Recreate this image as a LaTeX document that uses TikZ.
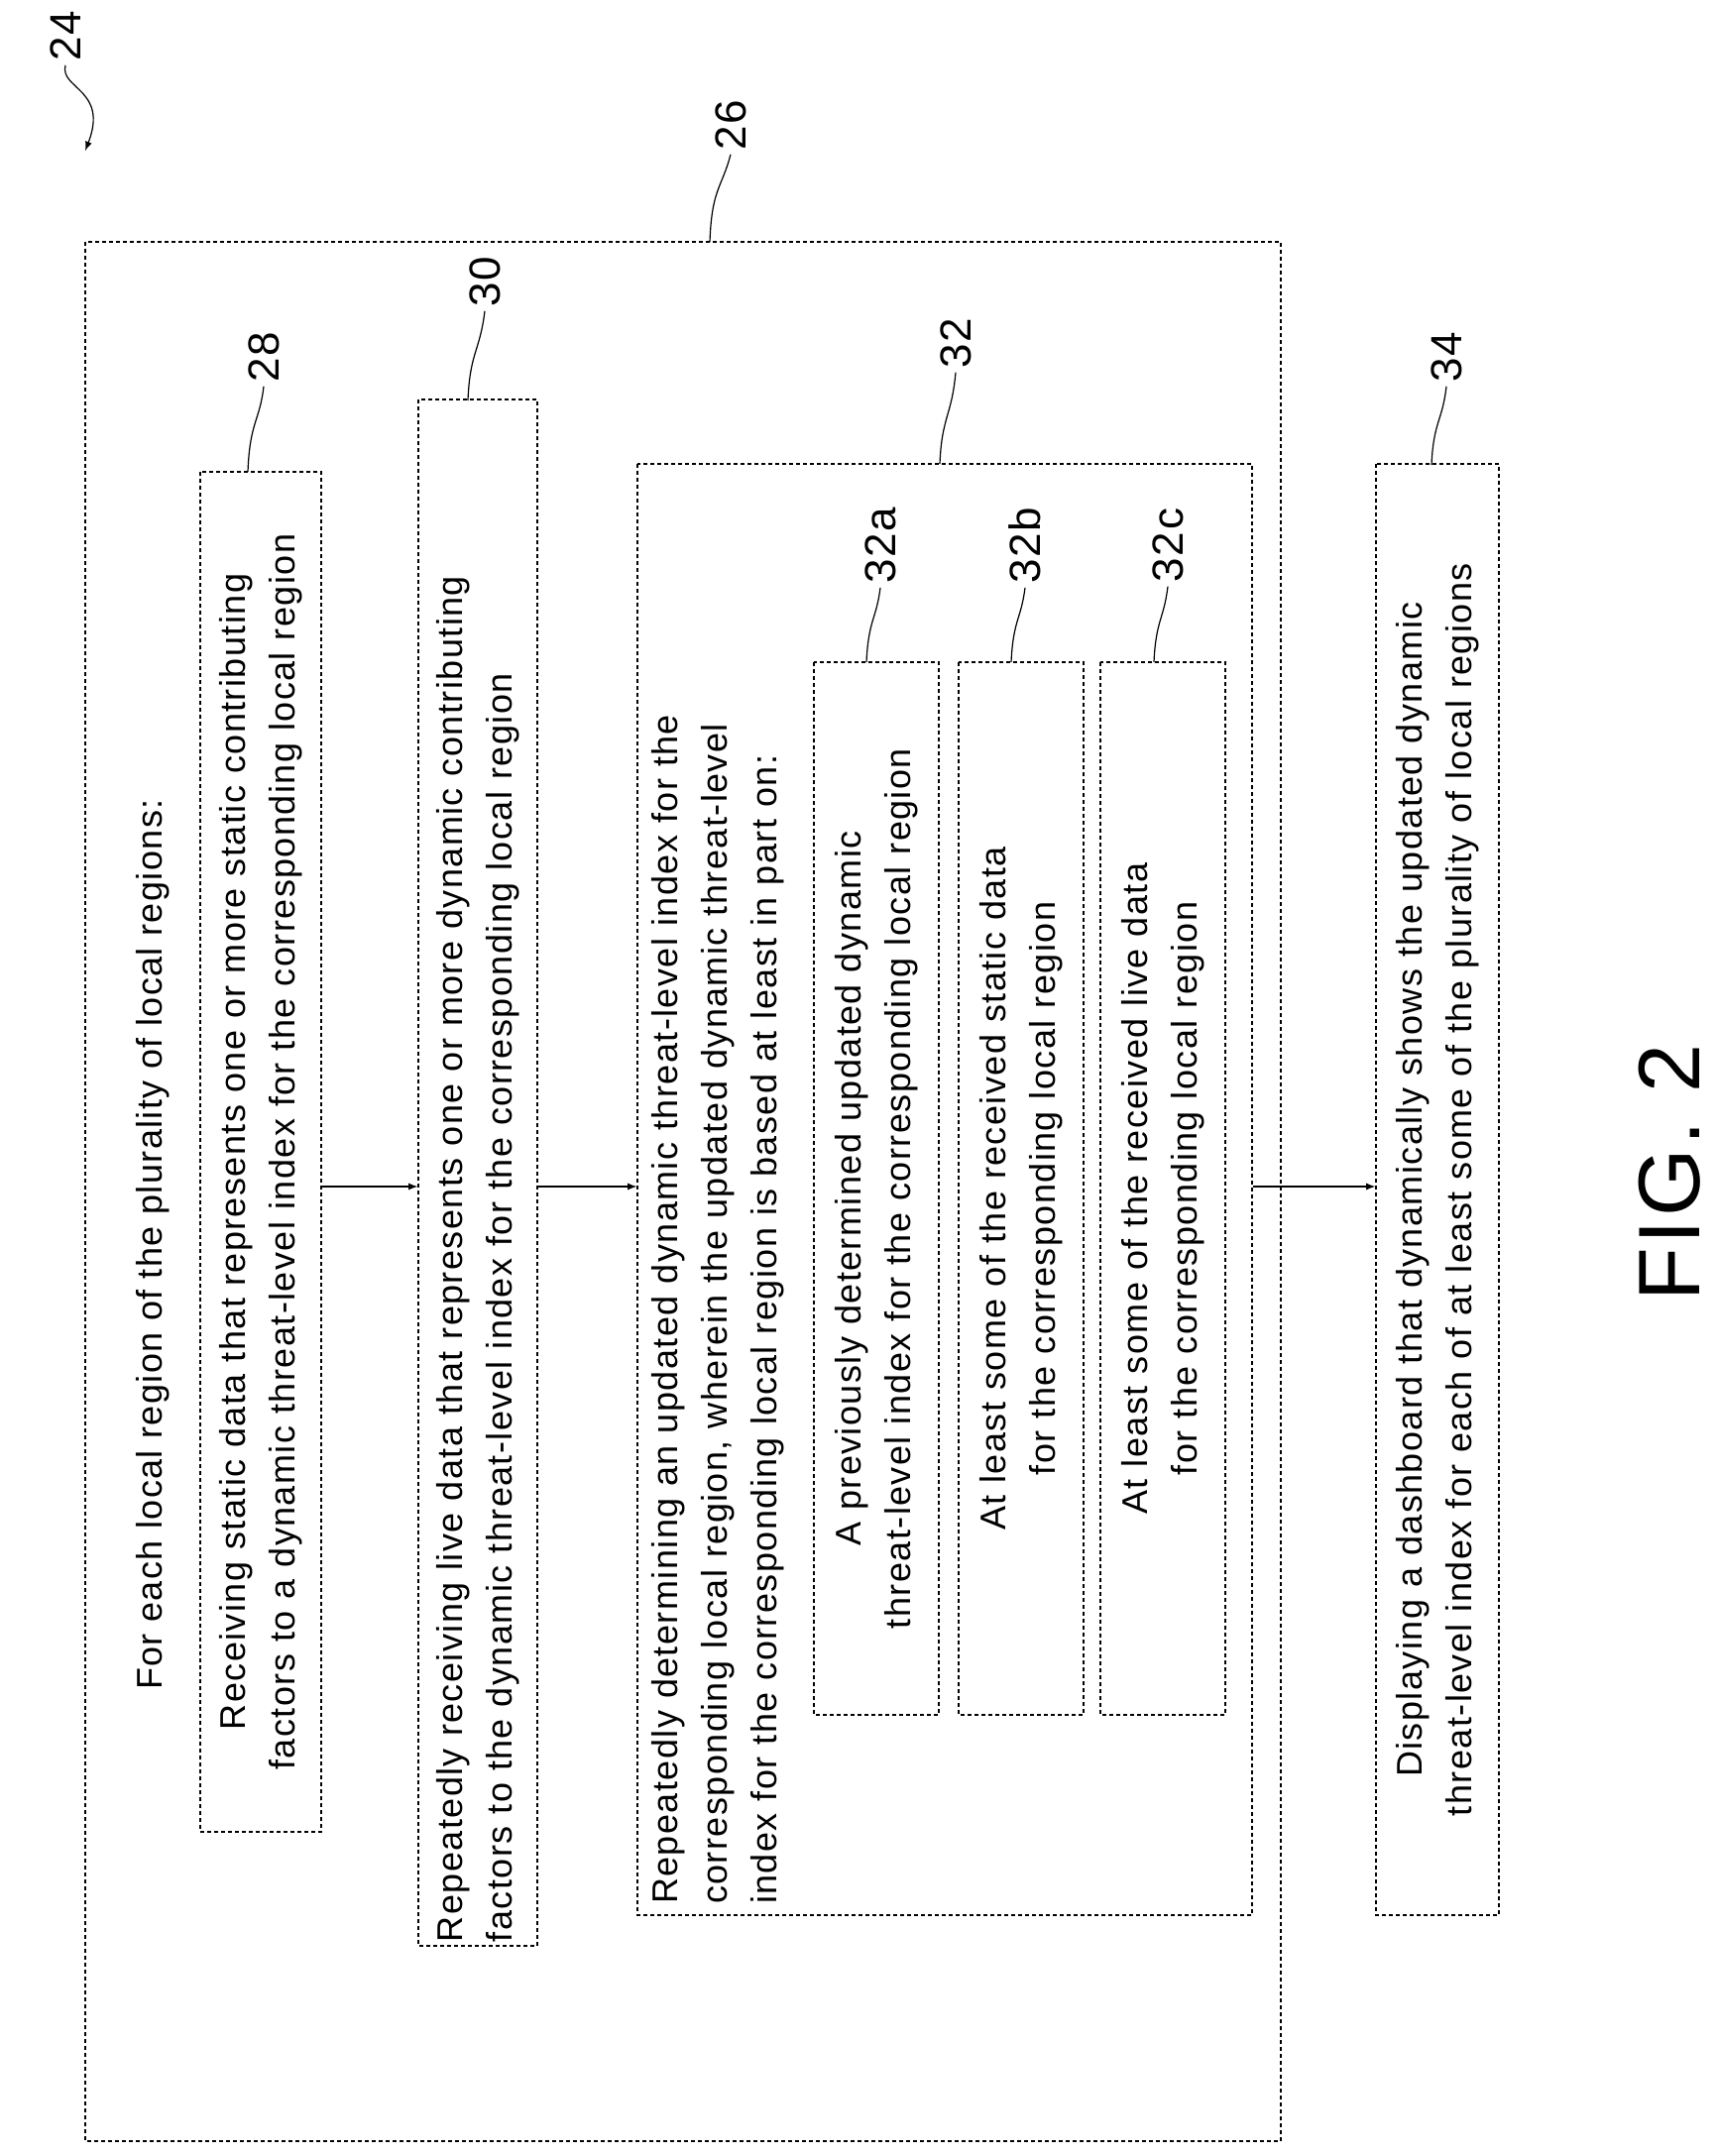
\documentclass[tikz,border=0pt]{standalone}
\usepackage{fontspec}
\setmainfont[LetterSpace=4]{Liberation Sans}
\begin{document}
\begin{tikzpicture}[x=0.5pt,y=-0.5pt,
  box/.style={draw,dash pattern=on 2pt off 1.5pt,line width=0.6pt,rotate=90,inner sep=0pt},
  txt/.style={font=\fontsize{18}{25}\selectfont},
  lbl/.style={font=\fontsize{22}{24}\selectfont,rotate=90,inner sep=2pt},
  lead/.style={line width=0.6pt}]
  \useasboundingbox (0,0) rectangle (1733,2175);
  % outer block
  \draw[dash pattern=on 2pt off 1.5pt,line width=0.6pt] (86,244) rectangle (1292,2160);
  \node[txt,rotate=90,anchor=north west] (head) at (130,1712) {For each local region of the plurality of local regions:};
  % steps
  \node[box,txt,minimum width=686pt,minimum height=61pt,text width=680pt,align=center] (s28) at (263,1162)
    {Receiving static data that represents one or more static contributing\\factors to a dynamic threat-level index for the corresponding local region};
  \node[box,txt,minimum width=780pt,minimum height=60pt,text width=776pt,align=left] (s30) at (482,1183)
    {Repeatedly receiving live data that represents one or more dynamic contributing\\factors to the dynamic threat-level index for the corresponding local region};
  \node[box,minimum width=732pt,minimum height=310pt] (s32) at (953,1200) {};
  \node[txt,rotate=90,anchor=north west,text width=726pt,align=left] (t32) at (650,1928)
    {Repeatedly determining an updated dynamic threat-level index for the\\corresponding local region, wherein the updated dynamic threat-level\\index for the corresponding local region is based at least in part on:};
  \node[box,txt,minimum width=531pt,minimum height=63pt,text width=525pt,align=center] (s32a) at (884,1199)
    {A previously determined updated dynamic\\threat-level index for the corresponding local region};
  \node[box,txt,minimum width=531pt,minimum height=63pt,text width=525pt,align=center] (s32b) at (1030,1199)
    {At least some of the received static data\\for the corresponding local region};
  \node[box,txt,minimum width=531pt,minimum height=63pt,text width=525pt,align=center] (s32c) at (1173,1199)
    {At least some of the received live data\\for the corresponding local region};
  \node[box,txt,minimum width=732pt,minimum height=62pt,text width=726pt,align=center] (s34) at (1450,1200)
    {Displaying a dashboard that dynamically shows the updated dynamic\\threat-level index for each of at least some of the plurality of local regions};
  % arrows
  \draw[lead,-latex] (s28.south |- 0,1197) -- (s30.north |- 0,1197);
  \draw[lead,-latex] (s30.south |- 0,1197) -- (s32.north |- 0,1197);
  \draw[lead,-latex] (s32.south |- 0,1197) -- (s34.north |- 0,1197);
  % reference numerals
  \node[lbl] (n24) at (66,36) {24};
  \node[lbl] (n26) at (737,126) {26};
  \node[lbl] (n28) at (266,360) {28};
  \node[lbl] (n30) at (489,284) {30};
  \node[lbl] (n32) at (964,346) {32};
  \node[lbl] (n32a) at (888,550) {32a};
  \node[lbl] (n32b) at (1034,550) {32b};
  \node[lbl] (n32c) at (1178,550) {32c};
  \node[lbl] (n34) at (1459,360) {34};
  \draw[lead,-latex] (n24.west) .. controls (60,90) and (110,90) .. (86,152);
  \draw[lead] (n26.west) .. controls (728,190) and (718,190) .. (716,244);
  \draw[lead] (n28.west) .. controls (262,425) and (252,425) .. (250,476);
  \draw[lead] (n30.west) .. controls (484,355) and (474,355) .. (472,404);
  \draw[lead] (n32.west) .. controls (960,420) and (950,420) .. (948,468);
  \draw[lead] (n32a.west) .. controls (884,625) and (876,625) .. (874,668);
  \draw[lead] (n32b.west) .. controls (1030,625) and (1022,625) .. (1020,668);
  \draw[lead] (n32c.west) .. controls (1174,625) and (1166,625) .. (1164,668);
  \draw[lead] (n34.west) .. controls (1455,425) and (1446,425) .. (1444,469);
  \node[font=\fontsize{44}{44}\selectfont,rotate=90] (fig) at (1684,1183) {FIG. 2};
\end{tikzpicture}
\end{document}
